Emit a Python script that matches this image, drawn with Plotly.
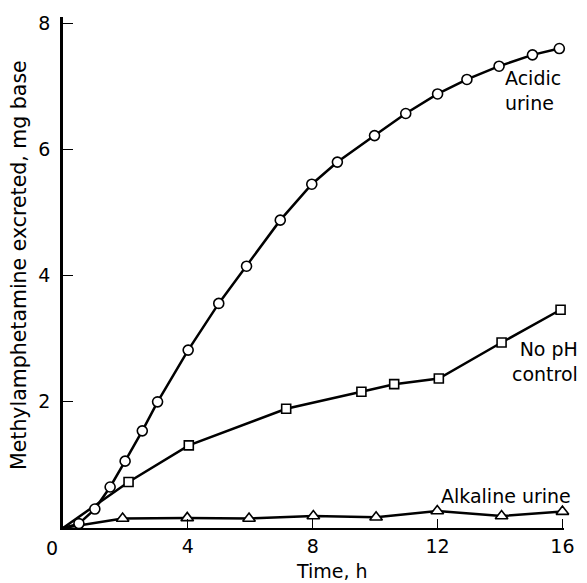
import plotly.graph_objects as go

# Acidic urine (circles)
acid_t = [0, 0.51, 1.02, 1.51, 1.99, 2.54, 3.03, 4.01, 4.99, 5.88, 6.96, 7.97, 8.79, 9.98, 10.98, 12.0, 12.94, 13.97, 15.04, 15.9]
acid_v = [0, 0.07, 0.30, 0.65, 1.06, 1.54, 2.00, 2.82, 3.56, 4.15, 4.88, 5.45, 5.80, 6.22, 6.57, 6.88, 7.11, 7.32, 7.50, 7.60]

# No pH control (squares)
noph_t = [0, 2.1, 4.03, 7.15, 9.56, 10.61, 12.04, 14.05, 15.94]
noph_v = [0, 0.73, 1.31, 1.89, 2.16, 2.28, 2.37, 2.94, 3.46]

# Alkaline urine (triangles)
alk_t = [0, 1.91, 3.98, 5.96, 8.02, 10.03, 11.99, 14.05, 16.0]
alk_v = [0, 0.15, 0.16, 0.15, 0.19, 0.17, 0.27, 0.19, 0.26]

x_ticks = [4, 8, 12, 16]
y_ticks = [2, 4, 6, 8]

FONT = "DejaVu Sans"
fig = go.Figure()


def add_series(t, v, symbol, size):
    sizes = [0] + [size] * (len(t) - 1)
    fig.add_trace(go.Scatter(
        x=t, y=v, mode="lines+markers", cliponaxis=False,
        line=dict(color="black", width=2.5),
        marker=dict(symbol=symbol, size=sizes, color="white", opacity=1,
                    line=dict(color="black", width=1.6)),
        showlegend=False,
    ))


add_series(alk_t, alk_v, "triangle-up", 11)
add_series(noph_t, noph_v, "square", 9)
add_series(acid_t, acid_v, "circle", 10)

fig.update_layout(
    width=587, height=583,
    margin=dict(l=63, r=17, t=14, b=55),
    plot_bgcolor="white", paper_bgcolor="white",
    font=dict(family=FONT, size=19, color="black"),
    xaxis=dict(range=[0, 16.05], tickvals=x_ticks, ticks="inside", ticklen=9,
               tickwidth=1.2, tickcolor="black", showline=True, linecolor="black",
               linewidth=2, showgrid=False, zeroline=False,
               tickfont=dict(size=19)),
    yaxis=dict(range=[0, 8.1], tickvals=y_ticks, ticks="inside", ticklen=10,
               tickwidth=1.2, tickcolor="black", showline=True, linecolor="black",
               linewidth=2.8, showgrid=False, zeroline=False,
               tickfont=dict(size=19), ticklabelstandoff=6),
)


def px_x(px):
    return (px - 63) / 505.6


def px_y(py):
    return (528 - py) / 514


ann = [
    dict(x=px_x(507), y=px_y(88), text="Acidic<br>urine", xanchor="left", yanchor="middle", align="left"),
    dict(x=px_x(585), y=px_y(361), text="No pH<br>control", xanchor="right", yanchor="middle", align="right"),
    dict(x=px_x(578), y=px_y(496), text="Alkaline urine", xanchor="right", yanchor="middle"),
    dict(x=px_x(52), y=px_y(548), text="0", xanchor="center", yanchor="middle"),
    dict(x=px_x(334), y=px_y(571), text="Time, h", xanchor="center", yanchor="middle"),
]
for a in ann:
    fig.add_annotation(xref="paper", yref="paper", showarrow=False,
                       font=dict(family=FONT, size=19), **a)

fig.add_annotation(xref="paper", yref="paper", x=px_x(18), y=px_y(263),
                   text="Methylamphetamine excreted, mg base", textangle=-90,
                   showarrow=False, xanchor="center", yanchor="middle",
                   font=dict(family=FONT, size=20.5))

fig.write_html("out.html")
